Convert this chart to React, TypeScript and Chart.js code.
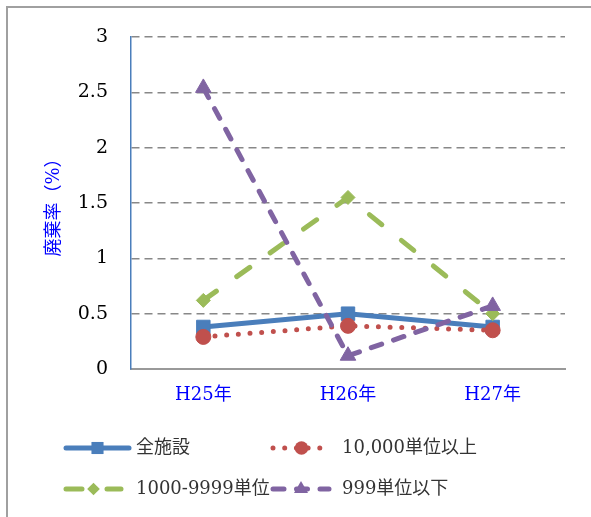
import React, { useEffect, useRef } from 'react';
import { Chart, registerables } from 'chart.js';

Chart.register(...registerables);

// ---- data ----
const categories = ['H25年', 'H26年', 'H27年'];
const seriesNames = ['全施設', '10,000単位以上', '1000-9999単位', '999単位以下'];
const allFacilities = [0.38, 0.5, 0.38];
const over10000 = [0.29, 0.39, 0.35];
const from1000to9999 = [0.62, 1.55, 0.5];
const under999 = [2.54, 0.12, 0.57];
const yMin = 0;
const yMax = 3;
const yStep = 0.5;
const yTitle = '廃棄率（%）';

const SERIF = "'DejaVu Serif', 'Noto Sans CJK JP', serif";

function drawMarker(ctx: CanvasRenderingContext2D, style: string, x: number, y: number, r: number, color: string) {
  ctx.save();
  ctx.fillStyle = color;
  ctx.beginPath();
  if (style === 'rect') {
    const s = Math.SQRT1_2 * r;
    ctx.rect(x - s, y - s, 2 * s, 2 * s);
  } else if (style === 'circle') {
    ctx.arc(x, y, r, 0, Math.PI * 2);
  } else if (style === 'rectRot') {
    ctx.moveTo(x, y - r);
    ctx.lineTo(x + r, y);
    ctx.lineTo(x, y + r);
    ctx.lineTo(x - r, y);
    ctx.closePath();
  } else if (style === 'triangle') {
    ctx.moveTo(x, y - r);
    ctx.lineTo(x + Math.cos(Math.PI / 6) * r, y + Math.sin(Math.PI / 6) * r);
    ctx.lineTo(x - Math.cos(Math.PI / 6) * r, y + Math.sin(Math.PI / 6) * r);
    ctx.closePath();
  }
  ctx.fill();
  ctx.restore();
}

const framePlugin = {
  id: 'frame',
  beforeDraw(chart: any) {
    const ctx = chart.ctx as CanvasRenderingContext2D;
    ctx.save();
    ctx.strokeStyle = '#a0a0a0';
    ctx.lineWidth = 2;
    ctx.beginPath();
    ctx.moveTo(7, chart.height + 5);
    ctx.lineTo(7, 7);
    ctx.lineTo(chart.width + 5, 7);
    ctx.stroke();
    ctx.restore();
  },
};

const legendPlugin = {
  id: 'customLegend',
  afterDraw(chart: any) {
    const ctx = chart.ctx as CanvasRenderingContext2D;
    const slots = [
      { x: 66, y: 448, w: 63 },
      { x: 273, y: 448, w: 57 },
      { x: 66, y: 489, w: 55 },
      { x: 273, y: 489, w: 56 },
    ];
    chart.data.datasets.forEach((ds: any, i: number) => {
      const s = slots[i];
      if (!s) return;
      ctx.save();
      ctx.strokeStyle = ds.borderColor;
      ctx.lineWidth = ds.borderWidth;
      ctx.lineCap = 'round';
      ctx.setLineDash(ds.borderDash || []);
      ctx.beginPath();
      ctx.moveTo(s.x, s.y);
      ctx.lineTo(s.x + s.w, s.y);
      ctx.stroke();
      ctx.restore();
      drawMarker(ctx, ds.pointStyle, s.x + s.w / 2, s.y, ds.pointRadius * 0.9, ds.borderColor);
      ctx.save();
      ctx.fillStyle = '#333333';
      ctx.font = `18px ${SERIF}`;
      ctx.textBaseline = 'middle';
      ctx.textAlign = 'left';
      ctx.fillText(ds.label, i % 2 === 0 ? 136 : 342, s.y);
      ctx.restore();
    });
  },
};

export default function App() {
  const ref = useRef<HTMLCanvasElement | null>(null);

  useEffect(() => {
    if (!ref.current) return;
    const chart = new Chart(ref.current, {
      type: 'line',
      data: {
        labels: categories,
        datasets: [
          {
            label: seriesNames[0],
            data: allFacilities,
            borderColor: '#4A7EBB',
            backgroundColor: '#4A7EBB',
            borderWidth: 5,
            borderCapStyle: 'round',
            pointStyle: 'rect',
            pointRadius: 9.5,
            pointBorderWidth: 1,
            pointBackgroundColor: '#4A7EBB',
            pointBorderColor: '#4A7EBB',
            order: 3,
          },
          {
            label: seriesNames[1],
            data: over10000,
            borderColor: '#C0504D',
            backgroundColor: '#C0504D',
            borderWidth: 5,
            borderCapStyle: 'round',
            borderDash: [0, 11.7],
            pointStyle: 'circle',
            pointRadius: 7.5,
            pointBorderWidth: 1,
            pointBackgroundColor: '#C0504D',
            pointBorderColor: '#C0504D',
            order: 2,
          },
          {
            label: seriesNames[2],
            data: from1000to9999,
            borderColor: '#9BBB59',
            backgroundColor: '#9BBB59',
            borderWidth: 5,
            borderCapStyle: 'round',
            borderDash: [16, 25],
            pointStyle: 'rectRot',
            pointRadius: 7,
            pointBorderWidth: 1,
            pointBackgroundColor: '#9BBB59',
            pointBorderColor: '#9BBB59',
            order: 1,
          },
          {
            label: seriesNames[3],
            data: under999,
            borderColor: '#8064A2',
            backgroundColor: '#8064A2',
            borderWidth: 5,
            borderCapStyle: 'round',
            borderDash: [11, 12.5],
            pointStyle: 'triangle',
            pointRadius: 9,
            pointBorderWidth: 1,
            pointBackgroundColor: '#8064A2',
            pointBorderColor: '#8064A2',
            order: 0,
          },
        ],
      },
      options: {
        animation: false,
        responsive: false,
        devicePixelRatio: 1,
        layout: { padding: { left: 42, right: 26, top: 37, bottom: 108 } },
        plugins: {
          legend: { display: false },
          tooltip: { enabled: false },
        },
        scales: {
          x: {
            offset: true,
            grid: { display: false, offset: true },
            border: { display: true, color: '#999999', width: 2 },
            ticks: {
              color: '#0000ff',
              font: { family: SERIF, size: 18 },
              padding: 8,
            },
            afterFit: (scale: any) => {
              scale.height = 40;
            },
          },
          y: {
            min: yMin,
            max: yMax,
            ticks: {
              stepSize: yStep,
              color: '#000000',
              font: { family: SERIF, size: 19 },
              padding: 23,
              callback: (v: any) => String(Number(v)),
            },
            grid: {
              drawTicks: false,
              lineWidth: 1.5,
              color: (c: any) => (c.tick && c.tick.value === 0 ? 'rgba(0,0,0,0)' : '#888888'),
            },
            border: { display: true, color: '#4A7EBB', width: 1.5, dash: [8, 5] },
            title: {
              display: true,
              text: yTitle,
              color: '#0000ff',
              font: { family: SERIF, size: 18 },
              padding: { top: 2, bottom: 0 },
            },
            afterFit: (scale: any) => {
              scale.width = 89;
            },
          },
        },
      },
      plugins: [framePlugin, legendPlugin],
    } as any);
    return () => chart.destroy();
  }, []);

  return (
    <div style={{ position: 'absolute', left: 0, top: 0, width: 591, height: 517, background: '#ffffff' }}>
      <canvas ref={ref} width={591} height={517} style={{ display: 'block' }} />
    </div>
  );
}
